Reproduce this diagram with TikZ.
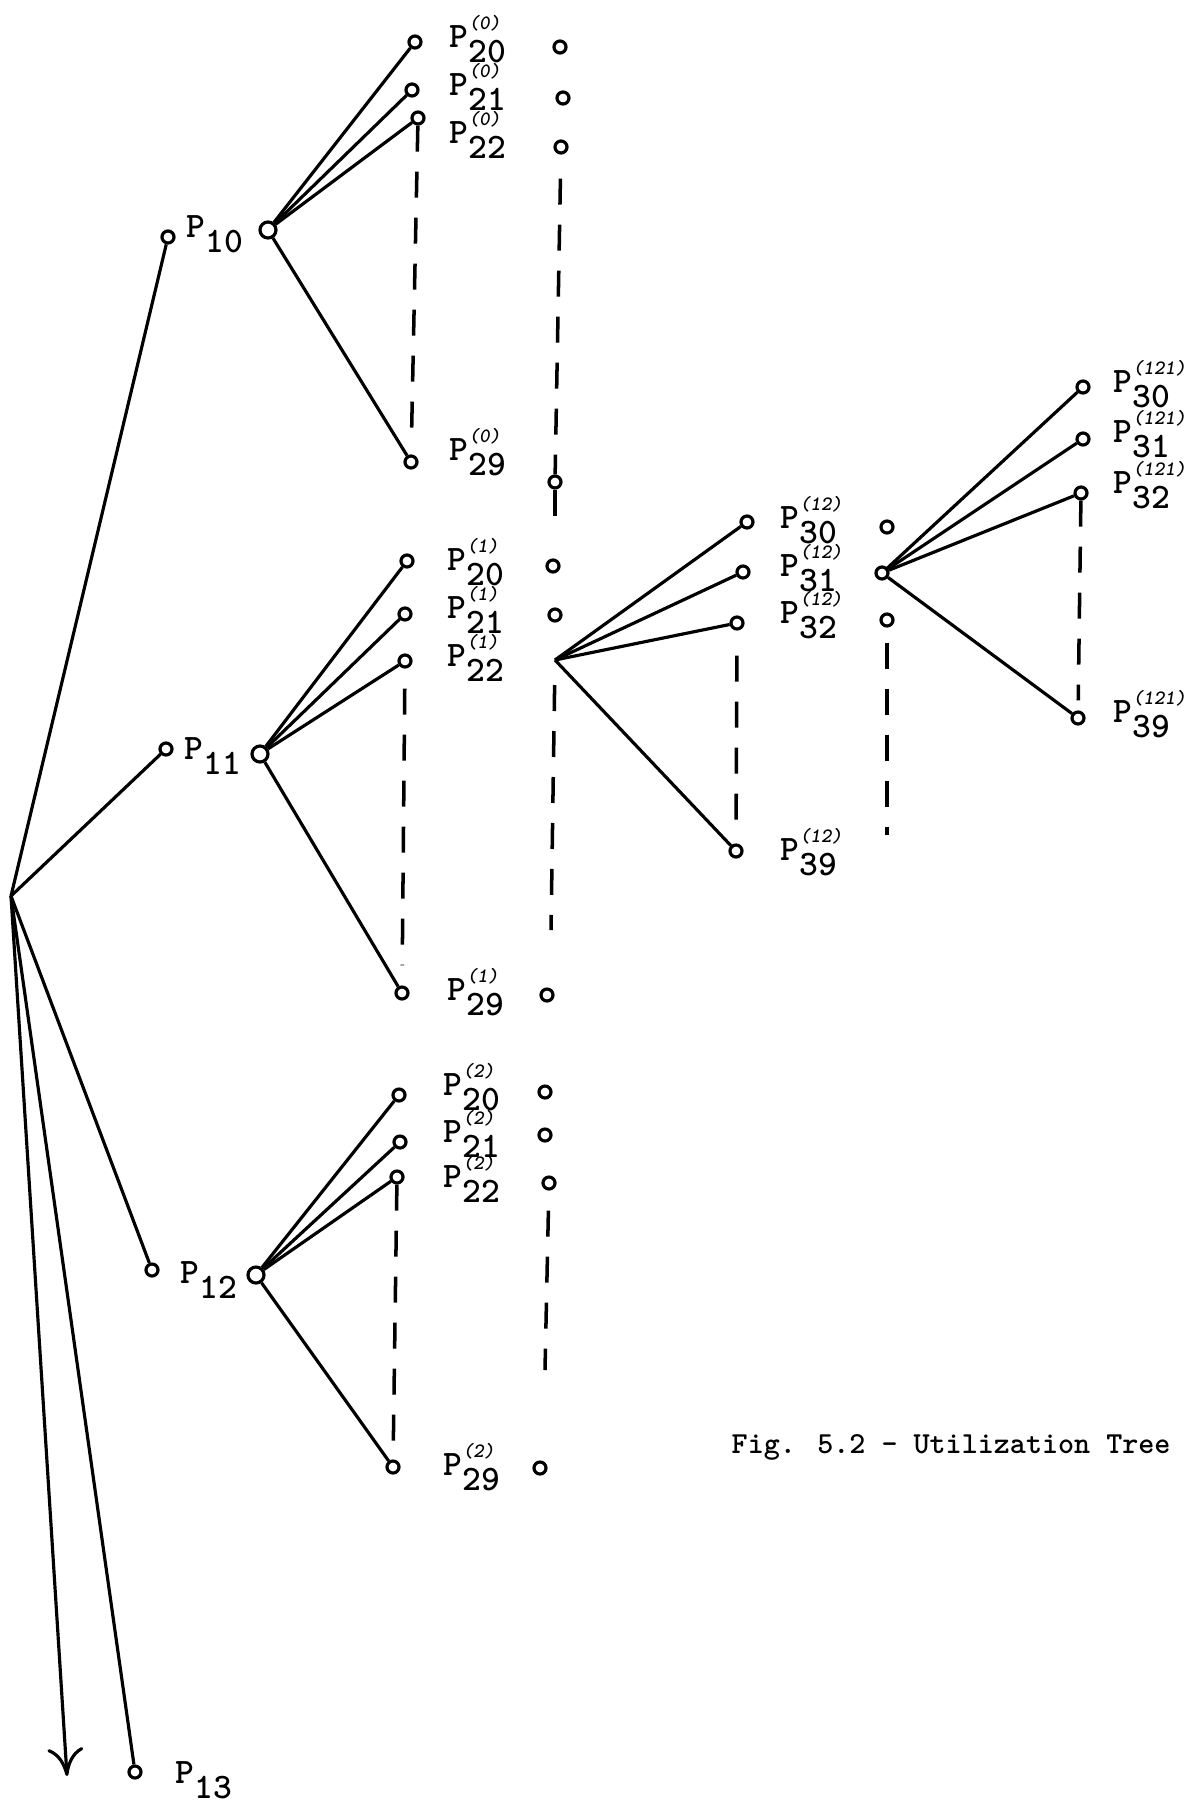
\documentclass[tikz,border=0pt]{standalone}
\usetikzlibrary{arrows.meta}
\newcommand{\pname}[1]{P\raisebox{-0.42em}{#1}}
\newcommand{\pnode}[2]{P\rlap{\raisebox{0.5em}{\fontsize{5.8}{7}\selectfont\itshape(#1)}}\raisebox{-0.42em}{#2}}

\begin{document}
\begin{tikzpicture}[x=0.1mm,y=-0.1mm,>={To[length=2.8mm,width=3.6mm]}]
  \tikzstyle{dot}=[circle, draw, fill=white, line width=0.9pt, inner sep=0pt, minimum size=1.2mm]
  \tikzstyle{hub}=[dot, minimum width=1.3mm, minimum height=1.6mm]
  \tikzstyle{edge}=[line width=0.9pt]
  \tikzstyle{gap}=[line width=1pt, dash pattern=on 2.6mm off 2mm]
  \tikzstyle{lbl}=[font=\fontsize{10.2}{12}\selectfont\ttfamily\bfseries, inner sep=0pt, anchor=base west]

  \useasboundingbox (0,0) rectangle (1201,1802);

  % first level
  \coordinate (root) at (11,896);
  \node[dot] (p10) at (168,237) {};
  \node[dot] (p11) at (166,749) {};
  \node[dot] (p12) at (152,1270) {};
  \node[dot] (p13) at (135,1772) {};
  \coordinate (down) at (67,1776);
  \foreach \n in {p10,p11,p12,p13}
    \draw[edge] (root) -- (\n);
  \draw[edge,->] (root) -- (down);

  % branching points
  \node[hub] (h0) at (268,230) {};
  \node[hub] (h1) at (260,754) {};
  \node[hub] (h2) at (256,1275) {};
  \coordinate (h12) at (555,660);
  \node[dot] (h121) at (882,573) {};

  % second level
  \foreach \k/\x/\y in {20/415/42, 21/412/90, 22/418/118, 29/411/462}
    \node[dot] (a\k) at (\x,\y) {};
  \foreach \k/\x/\y in {20/407/561, 21/405/614, 22/405/661, 29/402/993}
    \node[dot] (b\k) at (\x,\y) {};
  \foreach \k/\x/\y in {20/399/1095, 21/400/1142, 22/397/1177, 29/393/1467}
    \node[dot] (c\k) at (\x,\y) {};
  % third and fourth level
  \foreach \k/\x/\y in {30/747/522, 31/743/572, 32/737/623, 39/736/851}
    \node[dot] (d\k) at (\x,\y) {};
  \foreach \k/\x/\y in {30/1083/387, 31/1083/439, 32/1081/493, 39/1078/718}
    \node[dot] (e\k) at (\x,\y) {};

  \foreach \k in {20,21,22,29} {
    \draw[edge] (h0) -- (a\k);
    \draw[edge] (h1) -- (b\k);
    \draw[edge] (h2) -- (c\k);
  }
  \foreach \k in {30,31,32,39} {
    \draw[edge] (h12) -- (d\k);
    \draw[edge] (h121) -- (e\k);
  }

  % unexpanded points
  \foreach \k/\x/\y in {20/560/47, 21/563/98, 22/561/147, 29/555/482}
    \node[dot] (ra\k) at (\x,\y) {};
  \foreach \k/\x/\y in {20/553/566, 21/555/615, 29/547/995}
    \node[dot] (rb\k) at (\x,\y) {};
  \foreach \k/\x/\y in {20/545/1092, 21/545/1135, 22/549/1183, 29/540/1468}
    \node[dot] (rc\k) at (\x,\y) {};
  \foreach \k/\x/\y in {30/887/527, 32/887/620}
    \node[dot] (rd\k) at (\x,\y) {};
  \coordinate (raend) at (555,522);
  \coordinate (rbend) at (551,930);
  \coordinate (rcend) at (545,1370);
  \coordinate (rdend) at (887,835);

  % omitted branches
  \draw[gap, shorten >=2mm] (a22) -- (a29);
  \draw[gap, shorten <=2mm, shorten >=2mm] (b22) -- (b29);
  \draw[gap, shorten >=1.5mm] (c22) -- (c29);
  \draw[gap, shorten <=2.5mm, shorten >=1.5mm] (d32) -- (d39);
  \draw[gap, shorten >=1mm] (e32) -- (e39);
  \draw[gap, shorten <=2.4mm] (ra22) -- (ra29);
  \draw[gap] (ra29) -- (raend);
  \draw[gap, shorten <=2.5mm] (h12) -- (rbend);
  \draw[gap, shorten <=2mm] (rc22) -- (rcend);
  \draw[gap, shorten <=1.5mm] (rd32) -- (rdend);

  % labels
  \node[lbl] (l10) at (186,237) {\pname{10}};
  \node[lbl] (l11) at (184,759) {\pname{11}};
  \node[lbl] (l12) at (180,1283) {\pname{12}};
  \node[lbl] (l13) at (175,1783) {\pname{13}};
  \foreach \k/\y in {20/47,21/95,22/143,29/460}
    \node[lbl] (la\k) at (449,\y) {\pnode{0}{\k}};
  \foreach \k/\y in {20/570,21/618,22/666,29/1000}
    \node[lbl] (lb\k) at (447,\y) {\pnode{1}{\k}};
  \foreach \k/\y in {20/1095,21/1142,22/1187,29/1475}
    \node[lbl] (lc\k) at (443,\y) {\pnode{2}{\k}};
  \foreach \k/\y in {30/528,31/576,32/623,39/860}
    \node[lbl] (ld\k) at (780,\y) {\pnode{12}{\k}};
  \foreach \k/\y in {30/392,31/442,32/493,39/722}
    \node[lbl] (le\k) at (1113,\y) {\pnode{121}{\k}};

  \node[font=\fontsize{8.7}{10}\selectfont\ttfamily\bfseries, inner sep=0pt, anchor=base west] (caption)
    at (731,1453) {Fig. 5.2 - Utilization Tree};
\end{tikzpicture}
\end{document}
